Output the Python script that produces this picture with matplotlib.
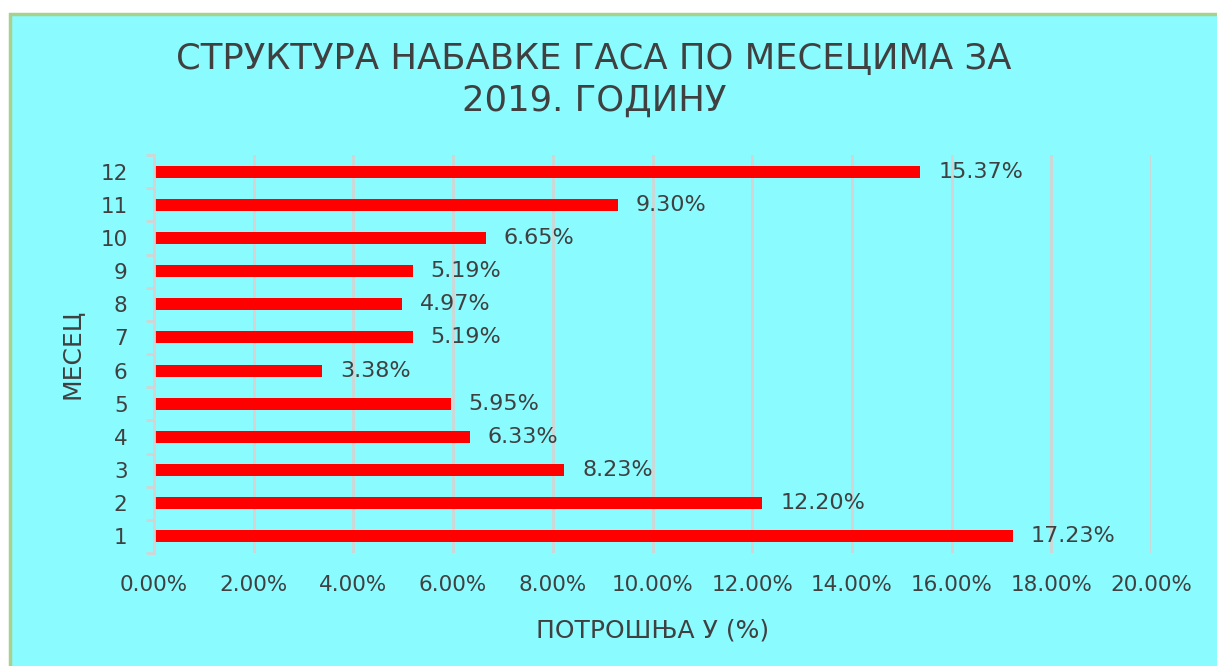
import matplotlib.pyplot as plt
from matplotlib.patches import Rectangle
from matplotlib.ticker import FixedLocator, FuncFormatter

plt.rcParams['font.family'] = ['DejaVu Sans']

months = ["1", "2", "3", "4", "5", "6", "7", "8", "9", "10", "11", "12"]
shares = [17.23, 12.20, 8.23, 6.33, 5.95, 3.38, 5.19, 4.97, 5.19, 6.65, 9.30, 15.37]
x_ticks = [0, 2, 4, 6, 8, 10, 12, 14, 16, 18, 20]

title = "СТРУКТУРА НАБАВКЕ ГАСА ПО МЕСЕЦИМА ЗА\n2019. ГОДИНУ"
xlabel = "ПОТРОШЊА У (%)"
ylabel = "МЕСЕЦ"

bg = "#8AFBFF"
text_col = "#404040"
grid_col = "#D4D4D4"

fig = plt.figure(figsize=(12.17, 6.66), dpi=100)
fig.patch.set_facecolor("white")
# chart area box with green border
fig.patches.append(Rectangle((9.5 / 1217, -0.01), 1.02, 1 - 13.5 / 666 + 0.01,
                             transform=fig.transFigure, facecolor=bg,
                             edgecolor="#A9D18E", linewidth=2.5, zorder=-1))

ax = fig.add_axes([154 / 1217, 1 - 553 / 666, 997 / 1217, 398 / 666])
ax.set_facecolor("none")

pos = list(range(len(months)))
ax.barh(pos, shares, height=0.36, color="#FF0000", zorder=3)
for p, v in zip(pos, shares):
    ax.annotate(f"{v:.2f}%", (v, p), xytext=(13, 0), textcoords="offset points",
                va="center", ha="left", fontsize=16, color=text_col)

ax.set_xlim(0, 20)
ax.set_ylim(-0.5, len(months) - 0.5)
ax.xaxis.set_major_locator(FixedLocator(x_ticks))
ax.xaxis.set_major_formatter(FuncFormatter(lambda v, _: f"{v:.2f}%"))
ax.set_yticks(pos)
ax.set_yticklabels(months)
ax.yaxis.set_minor_locator(FixedLocator([p - 0.5 for p in pos] + [len(months) - 0.5]))

ax.grid(axis="x", color=grid_col, linewidth=2.0, zorder=1)
for s in ["top", "right", "bottom"]:
    ax.spines[s].set_visible(False)
ax.spines["left"].set_color(grid_col)
ax.spines["left"].set_linewidth(2.0)
ax.spines["left"].set_zorder(4)

ax.tick_params(axis="x", length=0, pad=16, labelsize=15.5, labelcolor=text_col)
ax.tick_params(axis="y", which="major", length=0, pad=19, labelsize=15.5, labelcolor=text_col)
ax.tick_params(axis="y", which="minor", length=6, width=2.0, color=grid_col)

ax.set_xlabel(xlabel, fontsize=18, color=text_col, labelpad=17)
ax.set_ylabel(ylabel, fontsize=18, color=text_col, labelpad=12)

fig.text(594 / 1217, 1 - 80 / 666, title, ha="center", va="center",
         fontsize=25.5, color=text_col, linespacing=1.3)

fig.savefig("out.png", dpi=100, facecolor=fig.get_facecolor())
